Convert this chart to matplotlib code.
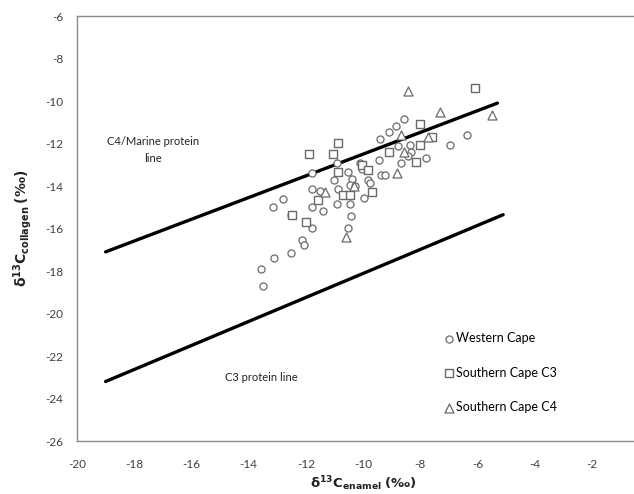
import matplotlib
matplotlib.use('Agg')
import matplotlib.pyplot as plt
import numpy as np

plt.rcParams['font.family'] = ['Lato', 'DejaVu Sans']
plt.rcParams['axes.unicode_minus'] = False

# Western Cape (circles)
wc_x = [-8.58, -8.83, -9.08, -9.41, -6.36, -6.96, -8.77, -8.36, -8.31, -8.43,
        -7.79, -8.66, -9.45, -10.05, -9.36, -9.24, -10.52, -10.40, -10.46, -10.29,
        -9.84, -9.76, -9.95, -10.92, -11.79, -11.00, -11.79, -11.50, -10.89, -12.78,
        -13.13, -12.53, -11.77, -11.77, -11.39, -10.92, -10.46, -10.43, -10.54, -12.12,
        -12.05, -12.52, -13.11, -13.56, -13.50, -10.11]
wc_y = [-10.87, -11.18, -11.48, -11.80, -11.59, -12.09, -12.11, -12.07, -12.41, -12.60,
        -12.66, -12.90, -12.78, -13.19, -13.47, -13.47, -13.35, -13.69, -13.93, -14.02,
        -13.73, -13.85, -14.56, -12.91, -13.37, -13.73, -14.14, -14.24, -14.13, -14.63,
        -14.98, -15.36, -15.97, -14.98, -15.18, -14.87, -14.87, -15.39, -15.97, -16.55,
        -16.79, -17.14, -17.38, -17.90, -18.71, -12.91]

# Southern Cape C3 (squares)
sc3_x = [-6.07, -8.01, -7.59, -8.00, -9.10, -8.14, -10.86, -11.89, -11.04, -10.86,
         -10.03, -9.84, -9.70, -10.69, -10.46, -11.59, -12.47, -12.00]
sc3_y = [-9.41, -11.08, -11.68, -12.06, -12.40, -12.87, -11.97, -12.49, -12.49, -13.35,
         -12.99, -13.26, -14.30, -14.40, -14.40, -14.67, -15.36, -15.69]

# Southern Cape C4 (triangles)
sc4_x = [-8.43, -7.30, -5.50, -8.66, -7.72, -8.55, -8.80, -11.33, -10.61, -10.30]
sc4_y = [-9.54, -10.53, -10.64, -11.60, -11.69, -12.38, -13.40, -14.27, -16.41, -14.00]

# protein lines (end points)
c4_line_x = [-19.0, -5.3]
c4_line_y = [-17.1, -10.1]
c3_line_x = [-19.0, -5.1]
c3_line_y = [-23.2, -15.35]

fig = plt.figure(figsize=(6.34, 4.94), dpi=100)
ax = fig.add_axes([77 / 634, 53 / 494, 572 / 634, 425 / 494])

ax.plot(c4_line_x, c4_line_y, color='black', linewidth=2.4, solid_capstyle='round')
ax.plot(c3_line_x, c3_line_y, color='black', linewidth=2.4, solid_capstyle='round')

edge = '#6a6a6a'
ax.scatter(wc_x, wc_y, s=26, marker='o', facecolors='white', edgecolors=edge,
           linewidths=0.9, label='Western Cape', zorder=3)
ax.scatter(sc3_x, sc3_y, s=40, marker='s', facecolors='white', edgecolors=edge,
           linewidths=1.0, label='Southern Cape C3', zorder=3)
ax.scatter(sc4_x, sc4_y, s=42, marker='^', facecolors='white', edgecolors=edge,
           linewidths=0.9, label='Southern Cape C4', zorder=3)

ax.text(-17.35, -12.3, 'C4/Marine protein\nline', ha='center', va='center',
        fontsize=8, color='#222222', linespacing=1.7)
ax.text(-13.57, -23.0, 'C3 protein line', ha='center', va='center',
        fontsize=8, color='#222222')

ax.set_xlim(-20, 0)
ax.set_ylim(-26, -6)
ax.set_xticks(np.arange(-20, 1, 2))
ax.set_yticks(np.arange(-26, -5, 2))
ax.tick_params(length=0, labelsize=8.5, colors='#404040')
ax.tick_params(axis='x', pad=13)
ax.tick_params(axis='y', pad=10)
for s in ax.spines.values():
    s.set_color('#8c8c8c')
    s.set_linewidth(1.0)

ax.set_xlabel(r'$\mathbf{\delta^{13}C_{enamel}}$ $\mathbf{(‰)}$', fontsize=9.5,
              fontweight='bold', color='#222222', labelpad=3)
ax.set_ylabel(r'$\mathbf{\delta^{13}C_{collagen}}$ $\mathbf{(‰)}$', fontsize=10,
              fontweight='bold', color='#222222', labelpad=8)

ax.legend(loc='upper left', bbox_to_anchor=(0.635, 0.268), frameon=False,
          fontsize=9, handlelength=0.6, handletextpad=0.3, labelspacing=1.8,
          borderaxespad=0)

fig.savefig('out.png', dpi=100)
